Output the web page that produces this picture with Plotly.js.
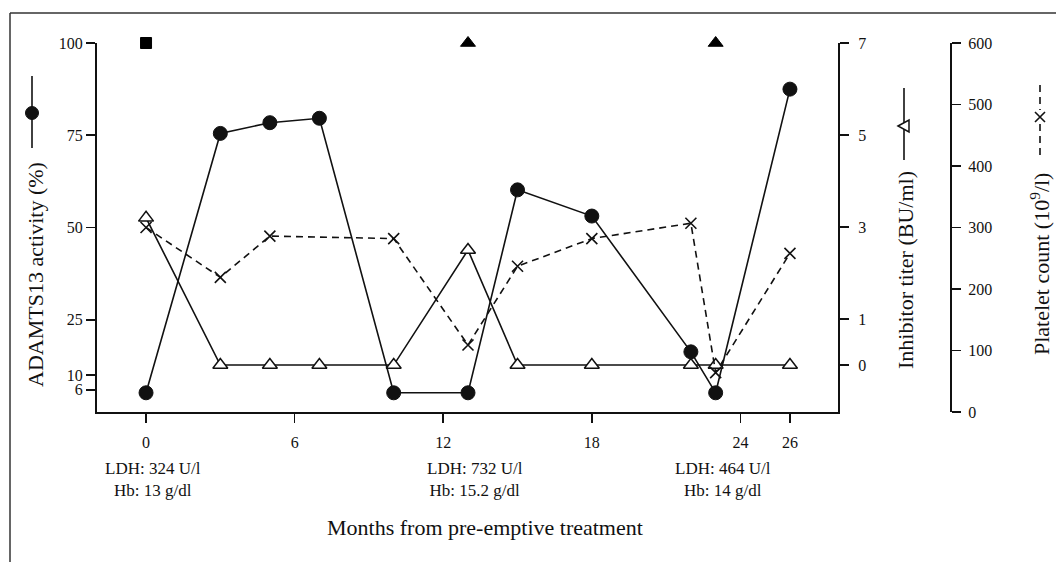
<!DOCTYPE html>
<html>
<head>
<meta charset="utf-8">
<script src="https://cdn.plot.ly/plotly-3.0.1.min.js"></script>
<style>html,body{margin:0;padding:0;background:#fff;}#chart{width:1056px;height:562px;}</style>
</head>
<body>
<div id="chart"></div>
<script>
// ---- data ----
const months = [0, 3, 5, 7, 10, 13, 15, 18, 22, 23, 26];
const adamts13 = [5.2, 75.5, 78.4, 79.6, 5.2, 5.2, 60.2, 53.1, 16.3, 5.2, 87.5];
const inhibitor = [3.2, 0, 0, 0, 0, 2.5, 0, 0, 0, 0, 0];
const plateletMonths = [0, 3, 5, 10, 13, 15, 18, 22, 23, 26];
const platelets = [300, 219, 286, 282, 109, 237, 282, 307, 64, 258];
const eventMonths = [0, 13, 23];
const eventSymbols = ['square', 'triangle-up', 'triangle-up'];
const eventSizes = [11, 13, 13];
const eventLevel = [100, 100, 100];
const ldhLabels = ['LDH: 324 U/l', 'LDH: 732 U/l', 'LDH: 464 U/l'];
const hbLabels = ['Hb: 13 g/dl', 'Hb: 15.2 g/dl', 'Hb: 14 g/dl'];
const xTicks = [0, 6, 12, 18, 24, 26];
const leftTicks = [6, 10, 25, 50, 75, 100];
const inhibTicks = [0, 1, 3, 5, 7];
const plateletTicks = [0, 100, 200, 300, 400, 500, 600];
const leftTitle = 'ADAMTS13 activity (%)';
const inhibTitle = 'Inhibitor titer (BU/ml)';
const plateletTitle = 'Platelet count (10<sup>9</sup>/l)';
const xTitle = 'Months from pre-emptive treatment';

// ---- geometry helpers (pixel -> paper) ----
const L = 97, R = 105, T = 43, B = 150, W = 1056, H = 562;
const PW = W - L - R, PH = H - T - B;
const px = v => (v - L) / PW;
const py = v => (H - B - v) / PH;

const FONT = 'Liberation Serif, Times New Roman, serif';

const traces = [
  {
    x: plateletMonths, y: platelets, yaxis: 'y3', type: 'scatter', mode: 'lines+markers',
    line: {color: '#111', width: 1.6, dash: '7px,5px'},
    marker: {symbol: 'x-thin', size: 11, line: {color: '#111', width: 1.6}},
    hoverinfo: 'skip', showlegend: false
  },
  {
    x: months, y: inhibitor, yaxis: 'y2', type: 'scatter', mode: 'lines+markers',
    line: {color: '#111', width: 1.6},
    marker: {symbol: 'triangle-up', size: 13, color: '#fff', line: {color: '#111', width: 1.5}},
    hoverinfo: 'skip', showlegend: false
  },
  {
    x: months, y: adamts13, yaxis: 'y', type: 'scatter', mode: 'lines+markers',
    line: {color: '#111', width: 1.6},
    marker: {symbol: 'circle', size: 14, color: '#111', line: {color: '#111', width: 1}},
    hoverinfo: 'skip', showlegend: false
  },
  {
    x: eventMonths, y: eventLevel, yaxis: 'y', type: 'scatter', mode: 'markers',
    marker: {symbol: eventSymbols, size: eventSizes, color: '#000', opacity: 1, line: {color: '#000', width: 1}},
    cliponaxis: false, hoverinfo: 'skip', showlegend: false
  }
];

const tickFont = {family: FONT, size: 16, color: '#111'};

const annotations = [];
for (let i = 0; i < eventMonths.length; i++) {
  annotations.push({x: eventMonths[i], xref: 'x', xshift: 7, y: py(479), yref: 'paper',
    text: ldhLabels[i] + '<br>' + hbLabels[i], showarrow: false, xanchor: 'center', yanchor: 'middle',
    align: 'center', font: {family: FONT, size: 17, color: '#111'}});
}
annotations.push({x: px(485), y: py(527), xref: 'paper', yref: 'paper', text: xTitle,
  showarrow: false, xanchor: 'center', yanchor: 'middle', font: {family: FONT, size: 22, color: '#111'}});
annotations.push({x: px(35), y: py(275), xref: 'paper', yref: 'paper', text: leftTitle, textangle: -90,
  showarrow: false, xanchor: 'center', yanchor: 'middle', font: {family: FONT, size: 22, color: '#111'}});
annotations.push({x: px(905), y: py(270), xref: 'paper', yref: 'paper', text: inhibTitle, textangle: -90,
  showarrow: false, xanchor: 'center', yanchor: 'middle', font: {family: FONT, size: 22, color: '#111'}});
annotations.push({x: px(1040), y: py(264), xref: 'paper', yref: 'paper', text: plateletTitle, textangle: -90,
  showarrow: false, xanchor: 'center', yanchor: 'middle', font: {family: FONT, size: 22, color: '#111'}});

const P = (x, y) => px(x) + ' ' + py(y);
const shapes = [
  // outer frame (top and left)
  {type: 'line', xref: 'paper', yref: 'paper', x0: px(10), x1: px(1056), y0: py(13), y1: py(13), line: {color: '#333', width: 1.5}},
  {type: 'line', xref: 'paper', yref: 'paper', x0: px(10), x1: px(10), y0: py(13), y1: py(562), line: {color: '#333', width: 1.5}},
  // ADAMTS13 key
  {type: 'line', xref: 'paper', yref: 'paper', x0: px(32), x1: px(32), y0: py(76), y1: py(148), line: {color: '#111', width: 1.6}},
  {type: 'circle', xref: 'paper', yref: 'paper', x0: px(25.5), x1: px(38.5), y0: py(106.5), y1: py(119.5), fillcolor: '#111', line: {color: '#111', width: 1}},
  // inhibitor key
  {type: 'line', xref: 'paper', yref: 'paper', x0: px(904), x1: px(904), y0: py(88), y1: py(160), line: {color: '#111', width: 1.6}},
  {type: 'path', xref: 'paper', yref: 'paper', path: 'M ' + P(898, 126) + ' L ' + P(909, 120) + ' L ' + P(909, 132) + ' Z', fillcolor: '#fff', line: {color: '#111', width: 1.5}},
  // platelet key
  {type: 'line', xref: 'paper', yref: 'paper', x0: px(1040), x1: px(1040), y0: py(85), y1: py(110), line: {color: '#111', width: 1.6, dash: '7px,5px'}},
  {type: 'line', xref: 'paper', yref: 'paper', x0: px(1040), x1: px(1040), y0: py(124), y1: py(157), line: {color: '#111', width: 1.6, dash: '7px,5px'}},
  {type: 'path', xref: 'paper', yref: 'paper', path: 'M ' + P(1035, 112) + ' L ' + P(1045, 122) + ' M ' + P(1045, 112) + ' L ' + P(1035, 122), line: {color: '#111', width: 1.6}}
];

const commonAxis = {
  showline: true, linecolor: '#111', linewidth: 2, ticks: 'outside', ticklen: 9, tickwidth: 1.6,
  tickcolor: '#111', showgrid: false, zeroline: false, tickfont: tickFont, fixedrange: true
};

const layout = {
  width: W, height: H, autosize: false,
  margin: {l: L, r: R, t: T, b: B, pad: 0},
  paper_bgcolor: '#fff', plot_bgcolor: '#fff',
  font: {family: FONT, color: '#111'},
  showlegend: false,
  xaxis: Object.assign({}, commonAxis, {
    domain: [0, (838 - L) / PW], range: [-1.98, 27.94], tickmode: 'array', tickvals: xTicks,
    ticktext: xTicks.map(String), anchor: 'y', ticklabelstandoff: 6
  }),
  yaxis: Object.assign({}, commonAxis, {
    range: [0, 100], tickmode: 'array', tickvals: leftTicks, ticktext: leftTicks.map(String), anchor: 'x'
  }),
  yaxis2: Object.assign({}, commonAxis, {
    range: [-1.02, 7], overlaying: 'y', side: 'right', anchor: 'x', tickmode: 'array',
    tickvals: inhibTicks, ticktext: inhibTicks.map(String), ticklabelstandoff: 6
  }),
  yaxis3: Object.assign({}, commonAxis, {
    range: [0, 600], overlaying: 'y', side: 'right', anchor: 'free', position: 1, tickmode: 'array',
    tickvals: plateletTicks, ticktext: plateletTicks.map(String), ticklabelstandoff: 4
  }),
  annotations: annotations,
  shapes: shapes
};

Plotly.newPlot('chart', traces, layout, {displayModeBar: false, staticPlot: true});
</script>
</body>
</html>
